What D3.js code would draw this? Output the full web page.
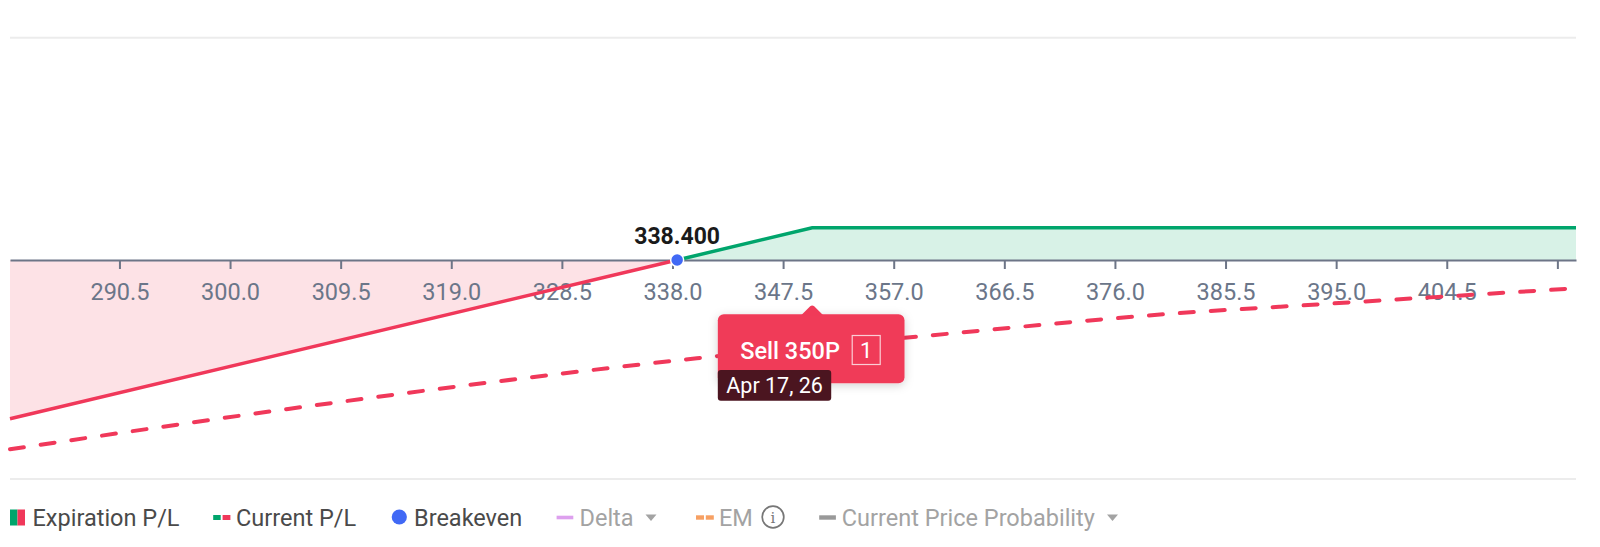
<!DOCTYPE html>
<html>
<head>
<meta charset="utf-8">
<script src="https://cdn.jsdelivr.net/npm/d3@7"></script>
<style>
  html, body { margin: 0; padding: 0; background: #ffffff; }
  svg { display: block; font-family: Roboto, "Noto Sans", sans-serif; }
</style>
</head>
<body>
<svg id="chart" width="1600" height="547"></svg>
<script>
// ---------- data ----------
const priceDomain = [281.1, 415.6];
const plDomain = [-7864, 7983];
const tickValues = [290.5, 300.0, 309.5, 319.0, 328.5, 338.0, 347.5, 357.0, 366.5, 376.0, 385.5, 395.0, 404.5, 414.0];

const expPrices = [281.1, 338.4, 350.0, 415.6];
const expPL     = [-5700, 0, 1160, 1160];

const curPrices = [281.1, 305.0, 322.1, 340.1, 359.0, 383.3, 390.2, 415.6];
const curPL     = [-6796, -5349, -4405, -3529, -2754, -1856, -1677, -1016];

const breakeven = 338.4;
const breakevenLabel = "338.400";

const legStrike = 350;
const legLabel = "Sell 350P";
const legQty = "1";
const legDate = "Apr 17, 26";

const legendItems = ["Expiration P/L", "Current P/L", "Breakeven", "Delta", "EM", "Current Price Probability"];

// ---------- styles ----------
const RED = "#f0385a";
const GREEN = "#00a56c";
const RED_FILL = "#fde2e6";
const GREEN_FILL = "#d8f2e7";
const AXIS = "#6d7587";
const TICK_TEXT = "#6b7689";
const FS = 23.5;

const svg = d3.select("#chart");
const pLeft = 10, pRight = 1576, pTop = 37.7, pBottom = 479;

const x = d3.scaleLinear().domain(priceDomain).range([pLeft, pRight]);
const y = d3.scaleLinear().domain(plDomain).range([pBottom, pTop]);

// grid lines top/bottom
svg.append("line").attr("x1", pLeft).attr("x2", pRight).attr("y1", pTop).attr("y2", pTop)
  .attr("stroke", "#ececec").attr("stroke-width", 2);
svg.append("line").attr("x1", pLeft).attr("x2", pRight).attr("y1", pBottom).attr("y2", pBottom)
  .attr("stroke", "#ececec").attr("stroke-width", 2);

const expData = expPrices.map((p, i) => ({p, v: expPL[i]}));
const curData = curPrices.map((p, i) => ({p, v: curPL[i]}));

const negData = expData.filter(d => d.v <= 0);
const posData = expData.filter(d => d.v >= 0);

const area = d3.area().x(d => x(d.p)).y0(y(0)).y1(d => y(d.v));
svg.append("path").datum(negData).attr("d", area).attr("fill", RED_FILL);
svg.append("path").datum(posData).attr("d", area).attr("fill", GREEN_FILL);

// axis
const axis = d3.axisBottom(x).tickValues(tickValues).tickSize(9).tickSizeOuter(0)
  .tickFormat(d => d3.format(".1f")(d));
const gAxis = svg.append("g").attr("transform", `translate(0,${y(0)})`).call(axis);
gAxis.select(".domain").attr("stroke", AXIS).attr("stroke-width", 2);
gAxis.selectAll(".tick line").attr("stroke", AXIS).attr("stroke-width", 2);
gAxis.selectAll(".tick text")
  .attr("fill", TICK_TEXT).attr("font-size", FS).attr("font-family", "Roboto")
  .attr("y", 39.5).attr("dy", "0")
  .style("display", d => (x(d) + 32 > pRight ? "none" : null));

// lines
const line = d3.line().x(d => x(d.p)).y(d => y(d.v));
svg.append("path").datum(negData).attr("d", line)
  .attr("fill", "none").attr("stroke", RED).attr("stroke-width", 3.5);
svg.append("path").datum(posData).attr("d", line)
  .attr("fill", "none").attr("stroke", GREEN).attr("stroke-width", 3.5);

const curveLine = d3.line().x(d => x(d.p)).y(d => y(d.v)).curve(d3.curveMonotoneX);
svg.append("path").datum(curData).attr("d", curveLine)
  .attr("fill", "none").attr("stroke", RED).attr("stroke-width", 4)
  .attr("stroke-dasharray", "14,17").attr("stroke-linecap", "round");

// breakeven
svg.append("circle").attr("cx", x(breakeven)).attr("cy", y(0)).attr("r", 6.5)
  .attr("fill", "#4169f5").attr("stroke", "#ffffff").attr("stroke-width", 1.5);
svg.append("text").attr("x", x(breakeven)).attr("y", y(0) - 16.5)
  .attr("text-anchor", "middle").attr("font-size", 23).attr("font-weight", 700)
  .attr("fill", "#1a1a1a").text(breakevenLabel);

// tooltip
const defs = svg.append("defs");
const f = defs.append("filter").attr("id", "shadow").attr("x", "-20%").attr("y", "-30%").attr("width", "140%").attr("height", "160%");
f.append("feDropShadow").attr("dx", 0).attr("dy", 2).attr("stdDeviation", 5).attr("flood-color", "#000").attr("flood-opacity", 0.18);

const px = x(legStrike);
const tip = svg.append("g").attr("transform", `translate(${px},0)`);
const bx0 = -94.4, bx1 = 92.3, by0 = 314.3, by1 = 383.3;
tip.append("rect").attr("x", bx0).attr("y", by0).attr("width", bx1 - bx0).attr("height", by1 - by0)
  .attr("rx", 6).attr("fill", "#f03a58").attr("filter", "url(#shadow)");
tip.append("path").attr("d", `M-11,${by0 + 1} L-2,${by0 - 8} Q0,${by0 - 9.5} 2,${by0 - 8} L11,${by0 + 1} Z`)
  .attr("fill", "#f03a58");
tip.append("text").attr("x", -72).attr("y", 359.3).attr("font-size", FS).attr("font-weight", 500)
  .attr("fill", "#ffffff").text(legLabel);
tip.append("rect").attr("x", 40).attr("y", 335.5).attr("width", 28).attr("height", 29)
  .attr("fill", "none").attr("stroke", "#ffffff").attr("stroke-opacity", 0.75).attr("stroke-width", 1.2);
tip.append("text").attr("x", 54).attr("y", 358).attr("text-anchor", "middle").attr("font-size", 22)
  .attr("fill", "#ffffff").text(legQty);
tip.append("rect").attr("x", bx0).attr("y", 370).attr("width", 113.4).attr("height", 30.7)
  .attr("rx", 3).attr("fill", "#4b1520");
tip.append("text").attr("x", bx0 + 8.5).attr("y", 393.3).attr("font-size", 21.5)
  .attr("fill", "#ffffff").text(legDate);

// legend
const lg = svg.append("g");
const ly = 517.5;
const DARK = "#4a4a4a", GREY = "#a3a3a3";
function legText(xx, txt, color) {
  lg.append("text").attr("x", xx).attr("y", ly).attr("dy", "0.355em").attr("font-size", FS).attr("fill", color).text(txt);
}
function arrow(cx) {
  lg.append("path").attr("d", `M${cx - 5.5},${ly - 3} L${cx + 5.5},${ly - 3} L${cx},${ly + 3.5} Z`).attr("fill", GREY);
}
// Expiration P/L
lg.append("rect").attr("x", 10).attr("y", ly - 8).attr("width", 7.5).attr("height", 16).attr("fill", GREEN);
lg.append("rect").attr("x", 17.5).attr("y", ly - 8).attr("width", 7.5).attr("height", 16).attr("fill", RED);
legText(32.5, legendItems[0], DARK);
// Current P/L
lg.append("rect").attr("x", 213.2).attr("y", ly - 2.5).attr("width", 7.5).attr("height", 5).attr("fill", GREEN);
lg.append("rect").attr("x", 222.6).attr("y", ly - 2.5).attr("width", 7.8).attr("height", 5).attr("fill", RED);
legText(236, legendItems[1], DARK);
// Breakeven
lg.append("circle").attr("cx", 399.3).attr("cy", ly - 0.5).attr("r", 7.6).attr("fill", "#4169f5");
legText(414, legendItems[2], DARK);
// Delta
lg.append("rect").attr("x", 556.6).attr("y", ly - 1.8).attr("width", 16.7).attr("height", 3.6).attr("fill", "#dda0ee");
legText(579.5, legendItems[3], GREY);
arrow(651);
// EM
lg.append("rect").attr("x", 696).attr("y", ly - 2.2).attr("width", 8).attr("height", 4.4).attr("fill", "#f7a063");
lg.append("rect").attr("x", 705.8).attr("y", ly - 2.2).attr("width", 8).attr("height", 4.4).attr("fill", "#f7a063");
legText(719, legendItems[4], GREY);
lg.append("circle").attr("cx", 773).attr("cy", ly - 0.5).attr("r", 10.8).attr("fill", "none").attr("stroke", "#777").attr("stroke-width", 1.7);
lg.append("text").attr("x", 773).attr("y", ly).attr("dy", "0.36em").attr("text-anchor", "middle").attr("font-size", 15).attr("font-family", "'DejaVu Serif', serif").attr("fill", "#777").text("i");
// Current Price Probability
lg.append("rect").attr("x", 819.2).attr("y", ly - 2.2).attr("width", 16.7).attr("height", 4.4).attr("fill", "#999999");
legText(841.8, legendItems[5], GREY);
arrow(1112.5);
</script>
</body>
</html>
